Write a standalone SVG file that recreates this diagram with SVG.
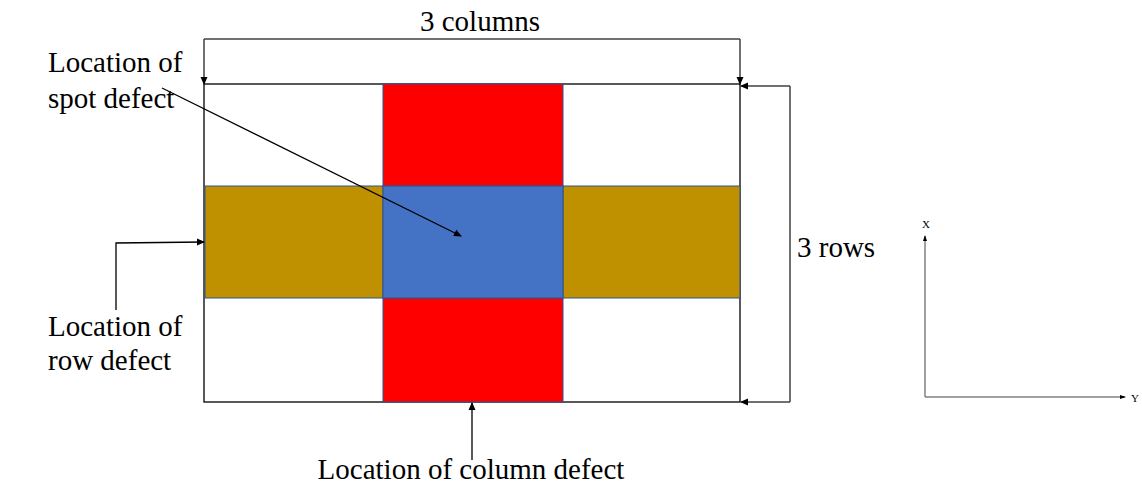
<svg xmlns="http://www.w3.org/2000/svg" width="1142" height="489" viewBox="0 0 1142 489">
<defs>
<marker id="ah" markerWidth="8" markerHeight="8" refX="7" refY="4" orient="auto" markerUnits="userSpaceOnUse">
<path d="M0,0.5 L8,4 L0,7.5 Z" fill="#000"/>
</marker>
<marker id="ahs" markerWidth="6" markerHeight="6" refX="5" refY="3" orient="auto" markerUnits="userSpaceOnUse">
<path d="M0,1 L6,3 L0,5 Z" fill="#000"/>
</marker>
</defs>
<style>
.t{font-family:"Liberation Serif","Times New Roman",serif;font-size:29px;fill:#000}
.ts{font-family:"Liberation Serif","Times New Roman",serif;font-size:11px;fill:#000}
.cell{stroke:#2F528F;stroke-width:1}
.dim{fill:none;stroke:#404040;stroke-width:1.5}
.lead{fill:none;stroke:#000;stroke-width:1.3}
.axis{fill:none;stroke:#808080;stroke-width:1.5}
</style>
<rect width="1142" height="489" fill="#fff"/>
<g id="grid">
<rect x="204" y="84" width="536" height="318" fill="#fff" stroke="#000" stroke-width="1.3"/>
<rect class="cell" x="383" y="84" width="180" height="102" fill="#FF0000"/>
<rect class="cell" x="383" y="298" width="180" height="104" fill="#FF0000"/>
<rect class="cell" x="205" y="186" width="178" height="112" fill="#BF9000"/>
<rect class="cell" x="563" y="186" width="177" height="112" fill="#BF9000"/>
<rect class="cell" x="383" y="186" width="180" height="112" fill="#4472C4"/>
</g>
<g id="connectors">
<path class="dim" d="M204,39 L740,39" />
<path class="dim" d="M204,39 L204,84" marker-end="url(#ah)"/>
<path class="dim" d="M740,39 L740,84" marker-end="url(#ah)"/>
<path class="dim" d="M790,86 L790,402" />
<path class="dim" d="M790,86 L741,86" marker-end="url(#ah)"/>
<path class="dim" d="M790,402 L741,402" marker-end="url(#ah)"/>
<path class="lead" d="M162,88 L461,236" marker-end="url(#ah)"/>
<path class="lead" d="M116,310 L116,243 L204,242" marker-end="url(#ah)"/>
<path class="lead" d="M472,460 L472,403" marker-end="url(#ah)"/>
</g>
<g id="labels">
<text class="t" x="480" y="31" text-anchor="middle">3 columns</text>
<text class="t" x="48" y="72">Location of</text>
<text class="t" x="48" y="108">spot defect</text>
<text class="t" x="797" y="257">3 rows</text>
<text class="t" x="48" y="336">Location of</text>
<text class="t" x="48" y="370">row defect</text>
<text class="t" x="471" y="479" text-anchor="middle">Location of column defect</text>
</g>
<g id="axes">
<path class="axis" d="M925,397 L925,236" marker-end="url(#ahs)"/>
<path class="axis" d="M925,397 L1125,397" marker-end="url(#ahs)"/>
<text class="ts" x="922" y="228">X</text>
<text class="ts" x="1131" y="402">Y</text>
</g>
</svg>
